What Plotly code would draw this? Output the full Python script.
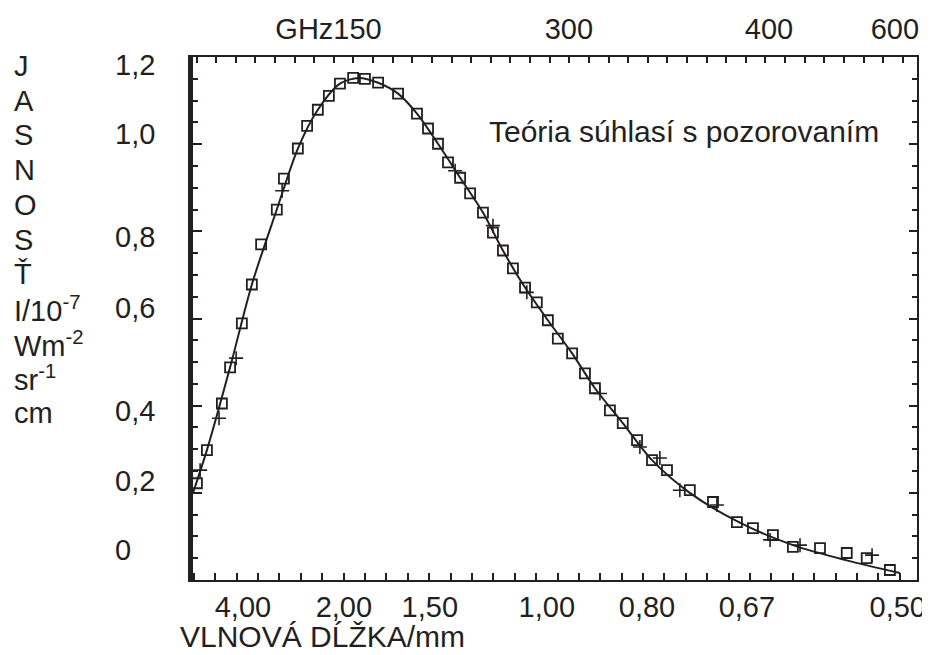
import plotly.graph_objects as go

# ---- data (x: wavenumber cm^-1, y: intensity 1e-7 W m^-2 sr^-1 cm) ----
square_x = [1.21, 1.49, 1.91, 2.14, 2.47, 2.75, 3.01, 3.45, 3.65, 4.04, 4.30, 4.60, 4.91,
            5.22, 5.59, 5.92, 6.29, 6.85, 7.38, 7.69, 7.97, 8.25, 8.59, 8.87, 9.23, 9.51,
            9.79, 10.07, 10.41, 10.74, 11.05, 11.33, 11.73, 12.09, 12.37, 12.79, 13.15,
            13.55, 13.97, 14.39, 15.03, 15.68, 16.35, 16.80, 17.36, 17.92, 18.68, 19.43,
            19.99, 20.64]
square_y = [0.222, 0.298, 0.405, 0.488, 0.589, 0.678, 0.770, 0.850, 0.921, 0.990, 1.042,
            1.079, 1.111, 1.139, 1.152, 1.150, 1.141, 1.116, 1.070, 1.036, 1.001, 0.958,
            0.923, 0.887, 0.843, 0.797, 0.756, 0.715, 0.671, 0.637, 0.596, 0.554, 0.520,
            0.474, 0.440, 0.389, 0.360, 0.321, 0.275, 0.252, 0.206, 0.179, 0.133, 0.119,
            0.103, 0.076, 0.073, 0.062, 0.050, 0.023]

cross_x = [1.30, 1.83, 2.31, 3.60, 8.45, 9.51, 10.46, 12.51, 13.63, 14.19, 14.75, 15.79,
           17.28, 18.12, 20.14]
cross_y = [0.252, 0.371, 0.509, 0.893, 0.939, 0.813, 0.660, 0.428, 0.305, 0.280, 0.206,
           0.172, 0.092, 0.080, 0.057]

theory_x = [1.10, 1.49, 2.14, 2.75, 3.45, 4.04, 4.60, 5.22, 5.75, 6.29, 6.85, 7.38, 7.97,
            8.59, 9.23, 9.79, 10.41, 11.05, 11.73, 12.37, 13.15, 13.97, 15.03, 16.35,
            17.92, 19.43, 20.92]
theory_y = [0.200, 0.298, 0.488, 0.678, 0.850, 0.990, 1.079, 1.139, 1.152, 1.141, 1.116,
            1.070, 1.001, 0.923, 0.843, 0.756, 0.671, 0.596, 0.520, 0.440, 0.360, 0.275,
            0.200, 0.135, 0.080, 0.045, 0.016]

bottom_tick_text = ["4,00", "2,00", "1,50", "1,00", "0,80", "0,67", "0,50"]
bottom_tick_pos = [2.50, 5.33, 7.74, 11.02, 13.83, 16.63, 20.86]
top_tick_text = ["GHz150", "300", "400", "600"]
top_tick_pos = [4.90, 11.64, 17.25, 20.78]
y_tick_text = ["0", "0,2", "0,4", "0,6", "0,8", "1,0", "1,2"]
y_tick_pos = [0.069, 0.227, 0.387, 0.623, 0.786, 1.023, 1.181]

y_title_lines = ["J", "A", "S", "N", "O", "S", "Ť", "I/10<sup>-7</sup>", "Wm<sup>-2</sup>",
                 "sr<sup>-1</sup>", "cm"]
x_title = "VLNOVÁ DĹŽKA/mm"
note_text = "Teória súhlasí s pozorovaním"

# ---- styling / layout (page has an 8px body offset) ----
FONT = "Liberation Sans, Arial, sans-serif"
INK = "#231f20"
OFF = 8
W, H = 930 - OFF, 655 - OFF
ML, MR, MT, MB = 193 - OFF, 13, 57 - OFF, 75
PW, PH = W - ML - MR, H - MT - MB
PLOT_L, PLOT_B = 193, 580  # page pixel positions of plot-area left/bottom

def px_x(px):
    return (px - PLOT_L) / PW

def px_y(py):
    return (PLOT_B - py) / PH

fig = go.Figure()
fig.add_trace(go.Scatter(x=theory_x, y=theory_y, mode="lines",
                         line=dict(color=INK, width=2, shape="spline", smoothing=0.8),
                         hoverinfo="skip", showlegend=False))
fig.add_trace(go.Scatter(x=square_x, y=square_y, mode="markers",
                         marker=dict(symbol="square-open", size=10, color=INK,
                                     line=dict(width=1.8, color=INK)),
                         showlegend=False))
fig.add_trace(go.Scatter(x=cross_x, y=cross_y, mode="markers",
                         marker=dict(symbol="cross-thin-open", size=10, color=INK,
                                     line=dict(width=1.6, color=INK)),
                         showlegend=False))
fig.add_trace(go.Scatter(x=[], y=[], xaxis="x2", yaxis="y2", showlegend=False))

xr = [1.1, 21.4]
yr = [0, 1.2]

annotations = []
# y tick labels (left aligned, as in reference)
for t, v in zip(y_tick_text, y_tick_pos):
    annotations.append(dict(x=px_x(113), xref="paper", y=v, yref="y", text=t,
                            showarrow=False, xanchor="left", yanchor="middle",
                            font=dict(family=FONT, size=29, color=INK)))
# vertical y title, one line per letter
for i, t in enumerate(y_title_lines):
    annotations.append(dict(x=px_x(12), xref="paper", y=px_y(66 + i * 34.7), yref="paper",
                            text=t, showarrow=False, xanchor="left", yanchor="middle",
                            font=dict(family=FONT, size=29, color=INK)))
annotations.append(dict(x=px_x(178), xref="paper", y=px_y(636), yref="paper",
                        text=x_title, showarrow=False, xanchor="left", yanchor="middle",
                        font=dict(family=FONT, size=30, color=INK)))
annotations.append(dict(x=9.34, xref="x", y=1.029, yref="y", text=note_text,
                        showarrow=False, xanchor="left", yanchor="middle",
                        font=dict(family=FONT, size=30, color=INK)))

fig.update_layout(
    width=W, height=H,
    margin=dict(l=ML, r=MR, t=MT, b=MB, autoexpand=False),
    paper_bgcolor="white", plot_bgcolor="white",
    font=dict(family=FONT, color=INK),
    showlegend=False,
    annotations=annotations,
    xaxis=dict(range=xr, automargin=False, showline=True, linewidth=2, linecolor=INK,
               showgrid=False, zeroline=False, tickmode="array", tickvals=bottom_tick_pos,
               ticktext=bottom_tick_text, ticks="", ticklabelstandoff=0,
               tickfont=dict(family=FONT, size=29, color=INK),
               minor=dict(tickmode="linear", tick0=1.72, dtick=0.6, ticks="inside",
                          ticklen=7, tickwidth=1.5, tickcolor=INK, showgrid=False)),
    xaxis2=dict(range=xr, automargin=False, overlaying="x", side="top", anchor="y",
                showline=True, linewidth=2, linecolor=INK, showgrid=False, zeroline=False,
                tickmode="array", tickvals=top_tick_pos, ticktext=top_tick_text,
                ticks="", ticklabelstandoff=4,
                tickfont=dict(family=FONT, size=29, color=INK),
                minor=dict(tickmode="linear", tick0=1.2, dtick=0.55, ticks="inside",
                           ticklen=6, tickwidth=1.5, tickcolor=INK, showgrid=False)),
    yaxis=dict(range=yr, automargin=False, showline=True, linewidth=5, linecolor=INK,
               showgrid=False, zeroline=False, showticklabels=False, tickmode="linear",
               tick0=0, dtick=0.2, ticks="inside", ticklen=9, tickwidth=2, tickcolor=INK,
               minor=dict(tickmode="linear", tick0=0, dtick=0.05, ticks="inside",
                          ticklen=5, tickwidth=1.5, tickcolor=INK, showgrid=False)),
    yaxis2=dict(range=yr, automargin=False, overlaying="y", side="right", anchor="x",
                showline=True, linewidth=2, linecolor=INK, showgrid=False, zeroline=False,
                showticklabels=False, tickmode="linear", tick0=0, dtick=0.2,
                ticks="inside", ticklen=8, tickwidth=2, tickcolor=INK,
                minor=dict(tickmode="linear", tick0=0, dtick=0.05, ticks="inside",
                           ticklen=5, tickwidth=1.5, tickcolor=INK, showgrid=False)),
)

fig.write_html("out.html")
